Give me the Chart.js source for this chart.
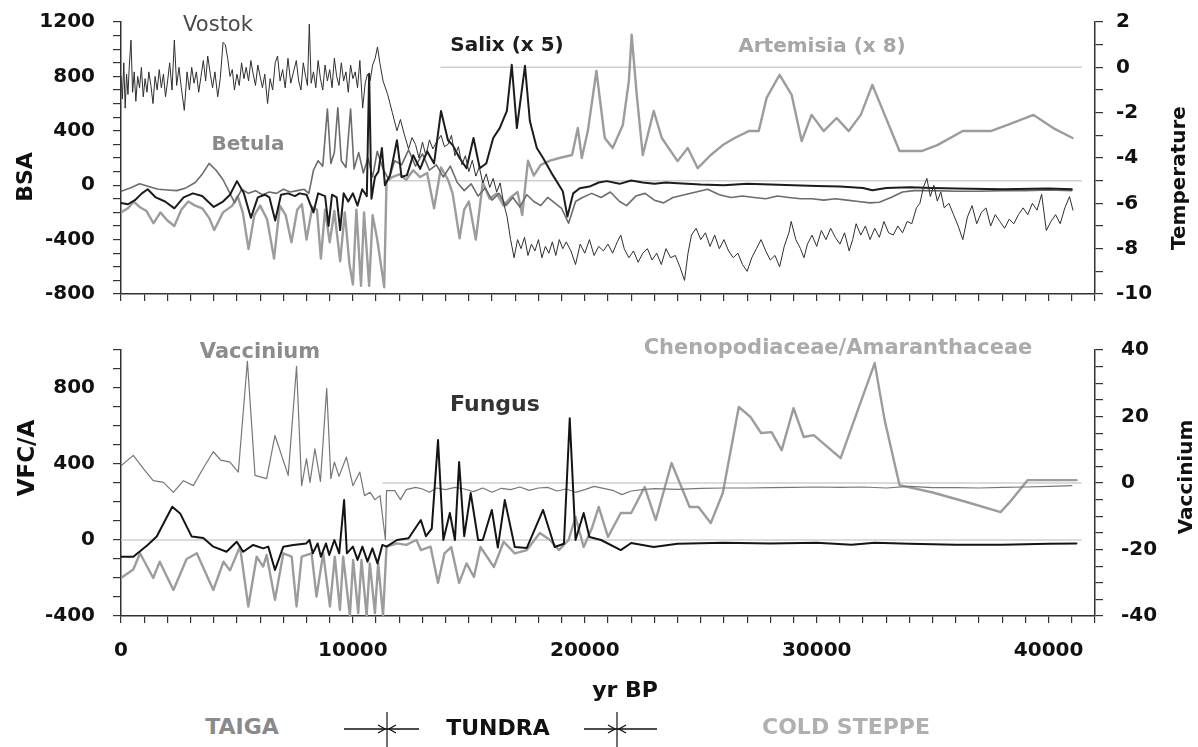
<!DOCTYPE html>
<html>
<head>
<meta charset="utf-8">
<script src="https://cdn.jsdelivr.net/npm/chart.js@4/dist/chart.umd.min.js"></script>
<style>
html, body { margin: 0; padding: 0; background: #fff; }
#wrap { position: relative; width: 1198px; height: 747px; overflow: hidden; font-family: "DejaVu Sans", sans-serif; }
canvas { position: absolute; left: 0; }
.lbl { position: absolute; white-space: nowrap; transform: translate(-50%, -50%); line-height: 1; }
.b { font-weight: bold; }
.rot { transform: translate(-50%, -50%) rotate(-90deg); }
</style>
</head>
<body>
<div id="wrap">
  <canvas id="topChart" width="1198" height="320" style="top:0"></canvas>
  <canvas id="bottomChart" width="1198" height="360" style="top:320px"></canvas>

  <div class="lbl" style="left:218px;top:24px;font-size:21px;color:#4a4a4a;">Vostok</div>
  <div class="lbl b" style="left:507px;top:44px;font-size:20px;color:#1e1e1e;">Salix (x 5)</div>
  <div class="lbl b" style="left:822px;top:45px;font-size:20px;color:#a6a6a6;filter:blur(0.5px);">Artemisia (x 8)</div>
  <div class="lbl b" style="left:248px;top:143px;font-size:20px;color:#8a8a8a;">Betula</div>
  <div class="lbl b" style="left:260px;top:351px;font-size:21px;color:#8c8c8c;">Vaccinium</div>
  <div class="lbl b" style="left:495px;top:404px;font-size:22px;color:#333;">Fungus</div>
  <div class="lbl b" style="left:838px;top:347px;font-size:21px;color:#ababab;filter:blur(0.6px);">Chenopodiaceae/Amaranthaceae</div>

  <div class="lbl b rot" style="left:25px;top:177px;font-size:22px;color:#111;">BSA</div>
  <div class="lbl b rot" style="left:1178px;top:178px;font-size:20px;color:#111;">Temperature</div>
  <div class="lbl b rot" style="left:26px;top:458px;font-size:23px;color:#111;">VFC/A</div>
  <div class="lbl b rot" style="left:1185px;top:477px;font-size:20px;color:#111;">Vaccinium</div>
  <div class="lbl b" style="left:625px;top:690px;font-size:22px;color:#111;">yr BP</div>

  <div class="lbl b" style="left:242px;top:727px;font-size:22px;color:#8a8a8a;">TAIGA</div>
  <svg style="position:absolute;left:340px;top:710px" width="85" height="37">
    <line x1="4" y1="19" x2="79" y2="19" stroke="#111" stroke-width="1.5"/>
    <line x1="47" y1="2" x2="47" y2="37" stroke="#111" stroke-width="1.2"/>
    <polyline points="38,15 45,19 38,23" fill="none" stroke="#111" stroke-width="1.3"/>
    <polyline points="56,15 49,19 56,23" fill="none" stroke="#111" stroke-width="1.3"/>
  </svg>
  <div class="lbl b" style="left:498px;top:728px;font-size:22px;color:#111;">TUNDRA</div>
  <svg style="position:absolute;left:580px;top:710px" width="85" height="37">
    <line x1="4" y1="19" x2="77" y2="19" stroke="#111" stroke-width="1.5"/>
    <line x1="37" y1="2" x2="37" y2="37" stroke="#111" stroke-width="1.2"/>
    <polyline points="28,15 35,19 28,23" fill="none" stroke="#111" stroke-width="1.3"/>
    <polyline points="46,15 39,19 46,23" fill="none" stroke="#111" stroke-width="1.3"/>
  </svg>
  <div class="lbl b" style="left:846px;top:727px;font-size:22px;color:#b0b0b0;filter:blur(0.6px);">COLD STEPPE</div>
</div>

<script>
// ---- Top panel: Vostok temperature (right axis) and BSA pollen curves (left axis) ----
const vostokAge = [
  0,60,120,180,240,300,360,430,500,570,
  640,720,800,880,960,1040,1120,1200,1290,1380,
  1470,1560,1650,1740,1830,1920,2010,2100,2200,2300,
  2400,2500,2600,2730,2850,2950,3050,3150,3250,3350,
  3450,3550,3650,3740,3850,3950,4050,4170,4280,4400,
  4500,4600,4700,4800,4890,5000,5100,5200,5300,5400,
  5500,5600,5700,5800,5900,6000,6100,6200,6320,6430,
  6540,6650,6750,6860,6970,7080,7200,7320,7440,7560,
  7660,7760,7860,7960,8040,8120,8200,8300,8400,8500,
  8600,8700,8800,8900,9000,9100,9200,9300,9400,9500,
  9600,9700,9800,9900,10000,10100,10200,10300,10420,10530,
  10630,10740,10850,10960,11060,11160,11300,11500,11700,11900,
  12050,12200,12400,12550,12700,12850,13000,13150,13300,13450,
  13600,13800,13950,14100,14250,14400,14550,14700,14850,15000,
  15150,15300,15450,15600,15750,15900,16050,16200,16350,16500,
  16650,16800,16950,17100,17250,17400,17550,17700,17850,18000,
  18150,18300,18450,18600,18750,18900,19050,19200,19400,19600,
  19800,20000,20200,20400,20600,20800,21000,21200,21400,21550,
  21700,21900,22100,22300,22500,22700,22900,23100,23300,23500,
  23700,23900,24100,24300,24450,24600,24800,25000,25200,25400,
  25600,25800,26000,26200,26400,26600,26800,27000,27200,27400,
  27600,27800,28000,28200,28400,28600,28800,28900,29100,29300,
  29450,29600,29800,30000,30200,30400,30600,30800,31000,31200,
  31400,31550,31700,31900,32100,32300,32500,32700,32900,33100,
  33300,33500,33700,33900,34100,34300,34450,34600,34750,34900,
  35050,35200,35350,35500,35700,35900,36100,36300,36500,36700,
  36900,37100,37300,37500,37700,37900,38100,38300,38500,38700,
  38900,39100,39300,39500,39700,39900,40100,40300,40500,40700,
  40900,41050
];
const vostokTemp = [
  -0.4,-1.4,0.2,-1.8,-0.3,-1.2,0.1,1.2,-1.1,-0.2,
  -1.5,-0.4,-0.9,0.0,-1.3,-0.5,-1.1,-0.2,-0.8,-1.6,
  -0.4,-1.0,-0.1,-0.9,-0.3,-1.3,-0.6,0.2,-1.0,1.2,
  -0.8,0.0,-0.9,-1.9,-0.2,-1.0,0.0,-0.7,-0.2,-1.1,
  -0.4,0.3,-0.6,0.5,-0.3,-0.9,-0.2,-1.3,-0.5,1.1,
  1.0,0.4,-0.4,-0.1,-1.0,-0.3,-0.8,0.2,-0.5,0.0,
  -0.6,0.3,-0.3,-0.8,0.1,-0.4,-0.9,-0.3,-1.6,-0.5,
  -1.0,0.2,0.5,-0.6,-0.1,-0.9,0.4,-0.7,-0.2,0.3,
  -0.6,-1.0,0.2,-0.4,-0.8,1.9,-0.7,-0.2,-0.9,0.3,
  -0.5,-1.0,0.1,-0.6,-0.1,-0.9,0.4,-0.4,-0.8,0.2,
  -0.6,-0.2,-1.1,0.1,-0.5,-0.2,-0.9,0.3,-1.8,-0.7,
  -0.3,-0.6,0.1,0.4,0.9,0.2,-0.6,-1.2,-2.0,-2.8,
  -2.3,-2.9,-3.6,-3.1,-3.4,-4.0,-3.3,-3.9,-3.2,-3.6,
  -3.3,-3.0,-3.5,-3.4,-3.0,-3.9,-3.5,-4.3,-3.9,-4.6,
  -4.1,-4.8,-4.4,-5.1,-4.7,-5.3,-4.9,-5.5,-5.1,-6.0,
  -6.6,-7.6,-8.4,-7.6,-8.0,-7.5,-8.3,-7.8,-8.1,-7.6,
  -8.4,-7.9,-8.2,-7.7,-8.3,-7.6,-8.0,-7.7,-8.1,-8.7,
  -7.8,-8.2,-7.6,-8.3,-7.9,-8.1,-7.8,-8.2,-7.7,-7.4,
  -8.0,-8.4,-8.1,-8.6,-8.2,-8.0,-8.5,-8.2,-8.7,-8.0,
  -8.4,-8.3,-8.8,-9.4,-8.2,-7.4,-7.1,-7.6,-7.3,-7.9,
  -7.4,-8.0,-7.6,-8.1,-8.4,-8.2,-8.7,-9.0,-8.4,-8.0,
  -7.6,-8.1,-8.5,-8.3,-8.8,-7.9,-7.3,-6.8,-7.6,-8.0,
  -8.4,-7.8,-7.4,-7.9,-7.2,-7.6,-7.1,-7.5,-7.8,-7.3,
  -8.1,-7.6,-6.9,-7.4,-7.0,-7.6,-7.1,-7.5,-6.8,-7.3,
  -7.4,-7.0,-7.3,-6.8,-6.9,-6.2,-6.0,-5.3,-4.9,-5.7,
  -5.2,-5.9,-5.5,-6.2,-6.0,-6.5,-7.0,-7.6,-6.6,-6.1,
  -6.9,-6.4,-6.2,-7.0,-6.5,-6.8,-7.1,-6.7,-6.9,-6.5,
  -6.2,-6.5,-6.0,-6.3,-5.6,-7.2,-6.8,-6.5,-6.9,-6.2,
  -5.7,-6.3
];

const salixAge = [
  0,300,600,900,1150,1500,1900,2300,2700,3100,
  3500,4000,4400,4700,5000,5300,5600,5900,6200,6400,
  6650,6900,7200,7500,7700,8000,8300,8500,8800,8950,
  9100,9300,9450,9600,9800,10000,10200,10400,10600,10700,
  10800,10950,11100,11250,11380,11600,11900,12100,12330,12600,
  12900,13200,13500,13800,14100,14300,14600,14900,15200,15470,
  15750,16050,16330,16640,16850,17070,17420,17630,17930,18200,
  18620,19050,19250,19500,19780,20200,20600,20950,21500,22000,
  22500,23000,23500,24000,25000,26000,27000,28000,29000,30000,
  31000,32000,32400,33000,34000,35000,36000,38000,40000,41000
];
const salixBSA = [
  -130,-140,-110,-60,-30,-90,-120,-170,-90,-60,
  -80,-160,-120,-70,30,-60,-240,-90,-70,-90,
  -260,-70,-60,-80,-60,-70,-200,-60,-80,-300,
  -70,-90,-330,-60,-120,-60,-150,-30,-80,820,
  -100,60,100,273,0,74,330,60,74,220,
  120,250,160,546,330,295,200,125,347,125,
  160,347,420,546,885,420,878,472,273,200,
  74,-44,-230,-60,-22,-10,20,30,10,35,
  20,10,20,15,5,0,10,5,0,-5,
  -10,-20,-37,-20,-15,-20,-25,-30,-25,-30
];

const betulaAge = [
  0,400,800,1200,1600,2000,2400,2800,3200,3500,
  3800,4100,4400,4700,4900,5200,5500,5800,6100,6400,
  6700,7000,7300,7600,7900,8100,8300,8500,8700,8900,
  9050,9200,9350,9500,9700,9900,10050,10250,10450,10650,
  10850,11050,11300,11550,11800,12100,12400,12700,13000,13300,
  13600,13900,14200,14500,14800,15100,15400,15700,16000,16300,
  16600,16900,17200,17500,17800,18100,18400,18700,19000,19300,
  19600,19900,20300,20700,21100,21500,21800,22200,22600,23000,
  23400,23800,24300,24800,25300,25800,26300,26800,27300,27800,
  28300,28800,29300,29800,30300,30800,31300,31800,32300,32700,
  33200,33700,34200,35000,36000,37000,38000,39000,40000,41000
];
const betulaBSA = [
  -45,-20,10,-10,-30,-35,-40,-20,20,80,
  160,110,40,-60,-130,-30,-60,-40,-70,-50,
  -60,-30,-50,-40,-30,-60,110,180,140,560,
  160,240,570,180,130,560,120,240,90,200,
  60,250,120,40,180,150,260,140,230,110,
  150,60,140,20,-40,10,-80,-20,-110,-60,
  -150,-90,-160,-70,-120,-150,-90,-130,-170,-280,
  -120,-90,-60,-90,-50,-120,-150,-80,-60,-110,
  -130,-90,-70,-50,-30,-70,-90,-80,-90,-100,
  -80,-90,-100,-100,-110,-100,-110,-120,-130,-125,
  -90,-50,-40,-40,-45,-45,-40,-40,-35,-40
];

const artemisiaAge = [
  0,300,550,800,1100,1400,1700,2000,2300,2600,
  2900,3200,3500,3800,4020,4400,4800,5030,5250,5500,
  5750,6000,6300,6600,6850,7100,7350,7600,7800,8000,
  8250,8450,8620,8800,9000,9200,9450,9650,9850,10000,
  10150,10350,10480,10700,10850,11050,11350,11450,11700,12000,
  12300,12600,12900,13200,13500,13800,14100,14300,14600,14800,
  15000,15300,15600,15900,16200,16500,16800,17100,17300,17550,
  17800,18100,18500,18900,19450,19700,19870,20130,20500,20860,
  21200,21640,21900,22020,22240,22500,22970,23320,24000,24440,
  24870,25430,25950,26460,27070,27500,27840,28400,28920,29350,
  29780,30300,30860,31380,31900,32400,32930,33570,34000,34520,
  35200,36300,37500,38230,39350,40200,41030
];
const artemisiaBSA = [
  -200,-170,-120,-160,-190,-280,-200,-260,-300,-180,
  -120,-150,-170,-240,-330,-200,-150,-80,-200,-470,
  -220,-150,-250,-540,-150,-220,-420,-180,-140,-400,
  -160,-180,-540,-180,-420,-190,-560,-200,-580,-730,
  -180,-740,-200,-740,-220,-400,-750,30,60,80,
  40,110,60,90,-170,130,40,-60,-390,-180,
  -120,-400,20,-100,-60,-150,-90,-50,-220,180,
  70,150,180,200,222,420,200,398,840,347,
  273,443,767,1107,664,222,546,347,177,273,
  125,222,295,347,398,398,642,812,664,325,
  517,398,494,398,517,738,517,251,251,251,
  295,398,398,443,517,420,347
];

// reference levels (temperature axis) and the ages where they start
const tempRefLevel = [0, -5];
const tempRefStart = [13800, 11500];
const refEndAge = 41400;

// ---- Bottom panel: Vaccinium (right axis), Fungus and Chenopodiaceae/Amaranthaceae (VFC/A) ----
const vaccAge = [
  0,530,1000,1390,1830,2260,2690,3120,3550,3980,
  4300,4700,5060,5450,5780,6280,6640,7210,7570,7790,
  8000,8150,8360,8600,8870,9050,9200,9400,9720,10000,
  10300,10500,10740,10950,11170,11400,11450,11800,12050,12300,
  12700,13000,13300,13600,14000,14400,14800,15200,15600,16000,
  16400,16800,17200,17600,18000,18400,18800,19200,19600,20000,
  20400,20800,21200,21600,22000,22500,23000,24000,25000,26000,
  27000,28000,29000,30000,31000,32000,33000,34000,35000,36000,
  37000,38000,39000,40000,41000
];
const vaccVal = [
  5.2,8.3,4.0,0.7,0.2,-2.8,0.7,-0.8,4.5,9.4,
  6.9,6.3,3.3,36.6,2.3,1.3,14.3,2.3,35.1,-0.8,
  7.3,0.2,10.3,0.5,28.5,1.3,6.3,2.0,7.8,-0.8,
  3.3,-3.8,-2.8,-5.0,-3.8,-17.0,-2.3,-2.3,-5.0,-2.0,
  -1.3,-1.8,-2.8,-1.5,-2.0,-1.3,-1.8,-2.6,-1.5,-2.8,
  -1.6,-2.0,-1.2,-2.2,-1.5,-1.3,-2.4,-1.8,-2.8,-2.0,
  -1.0,-1.6,-2.2,-3.5,-2.4,-2.0,-1.7,-1.9,-1.6,-1.5,
  -1.5,-1.4,-1.3,-1.2,-1.3,-1.2,-1.5,-1.0,-1.4,-1.4,
  -1.5,-1.3,-1.2,-1.0,-0.8
];

const fungusAge = [
  0,530,1150,1540,2210,2550,3050,3550,3980,4550,
  4990,5270,5700,6130,6350,6640,7000,7430,7990,8130,
  8270,8480,8620,8840,8980,9200,9410,9620,9740,10000,
  10200,10410,10630,10840,11060,11270,11450,11900,12400,12930,
  13150,13400,13670,13900,14180,14400,14580,14800,15080,15400,
  15600,15990,16250,16550,16980,17500,18200,18700,19100,19350,
  19600,19950,20200,20700,21550,22000,22970,24000,26000,28000,
  30000,31500,32500,34000,36000,38000,40000,41200
];
const fungusVal = [
  -88,-88,-26,18,175,140,18,10,-35,-62,
  -9,-62,-26,-44,-35,-158,-35,-26,-18,0,
  -70,-18,-88,-18,-79,0,-70,210,-70,-35,
  -105,-35,-114,-44,-123,-26,-35,0,9,105,
  20,60,526,0,142,0,410,20,247,0,
  0,158,-40,210,-37,-42,158,-37,-20,641,
  0,142,16,0,-53,-16,-37,-20,-15,-18,
  -15,-25,-15,-20,-25,-25,-20,-18
];

const chenoAge = [
  0,530,820,1390,1670,2260,2830,3270,3980,4420,
  4700,5130,5490,5850,6130,6280,6640,7000,7360,7570,
  7790,8220,8430,8720,9010,9220,9440,9580,9870,10010,
  10230,10370,10590,10730,10950,11090,11300,11450,11900,12300,
  12740,12930,13350,13670,13950,14240,14580,14900,15220,15500,
  16080,16500,16980,17500,18060,18500,18880,19300,19600,19950,
  20300,20600,21000,21550,22000,22580,23060,23740,24520,24900,
  25430,25950,26640,27150,27600,28050,28490,29000,29440,29870,
  31030,32500,32930,33570,35000,36460,37930,38400,39090,40000,
  41200
];
const chenoVal = [
  -200,-155,-70,-200,-114,-263,-100,-70,-263,-114,
  -160,-35,-350,-88,-140,-79,-315,-70,-88,-350,
  -88,-70,-298,-70,-350,-88,-368,-88,-398,-105,
  -385,-105,-398,-123,-385,-123,-398,-35,-18,-26,
  0,-53,-35,-226,-70,-37,-226,-123,-195,-37,
  -142,-9,-70,-53,37,0,-53,0,121,-37,
  60,174,16,142,142,279,105,405,174,174,
  89,247,700,647,563,568,473,694,542,552,
  431,931,631,289,250,200,147,210,315,315,
  315
];

// reference levels for the bottom panel
const vfcRefStart = 0;
const vaccRefStart = 11300;

// axis tick settings
const ageMax = 42000;
const ageLabelEvery = 10000;

Chart.defaults.font.family = '"DejaVu Sans", sans-serif';
Chart.defaults.color = '#111';

function pts(ages, vals) {
  return ages.map((a, i) => ({ x: a, y: vals[i] }));
}

function line(label, data, axis, color, width) {
  return {
    label, data, yAxisID: axis,
    borderColor: color, borderWidth: width,
    pointRadius: 0, tension: 0, fill: false
  };
}

// pin each axis box to a fixed size so the plot areas line up exactly
function pinBox(s, w, h) {
  if (w !== null) s.width = w;
  if (h !== null) s.height = h;
  s.paddingTop = 0; s.paddingBottom = 0; s.paddingLeft = 0; s.paddingRight = 0;
}

function xAxis(height, showLabels) {
  return {
    type: 'linear', min: 0, max: ageMax,
    afterFit: s => pinBox(s, null, height),
    border: { display: true, color: '#333', width: 1.5 },
    grid: { drawOnChartArea: false, drawTicks: true, tickLength: 7, color: '#333', lineWidth: 1.2 },
    ticks: {
      display: showLabels, stepSize: 1000, autoSkip: false, maxRotation: 0, minRotation: 0,
      padding: 16, color: '#111', font: { size: 20, weight: 'bold' },
      callback: v => (Math.round(v) % ageLabelEvery === 0 ? String(v) : '')
    }
  };
}

function yAxis(pos, min, max, step, every, width, pad) {
  return {
    type: 'linear', position: pos, min, max,
    afterFit: s => pinBox(s, width, null),
    border: { display: true, color: '#333', width: 1.5 },
    grid: { drawOnChartArea: false, drawTicks: true, tickLength: 8, color: '#333', lineWidth: 1.2 },
    ticks: {
      stepSize: step, autoSkip: false, padding: pad, color: '#111',
      font: { size: 20, weight: 'bold' },
      callback: v => (Math.round(v) % every === 0 ? String(Math.round(v)) : '')
    }
  };
}

const common = {
  responsive: false,
  animation: false,
  devicePixelRatio: 1,
  plugins: { legend: { display: false }, tooltip: { enabled: false } },
  elements: { line: { borderCapStyle: 'round', borderJoinStyle: 'round' } }
};

// top chart
const topDatasets = [
  line('Vostok', pts(vostokAge, vostokTemp), 'yT', '#2e2e2e', 1),
  line('Salix (x 5)', pts(salixAge, salixBSA), 'yL', '#1c1c1c', 2),
  line('Betula', pts(betulaAge, betulaBSA), 'yL', '#6c6c6c', 1.6),
  line('Artemisia (x 8)', pts(artemisiaAge, artemisiaBSA), 'yL', '#9c9c9c', 2.4)
];
tempRefLevel.forEach((lv, i) => {
  topDatasets.push(line('ref', [{ x: tempRefStart[i], y: lv }, { x: refEndAge, y: lv }], 'yT', '#cfcfcf', 1.5));
});

new Chart(document.getElementById('topChart'), {
  type: 'line',
  data: { datasets: topDatasets },
  options: Object.assign({}, common, {
    layout: { padding: { top: 22, left: 0, right: 0, bottom: 0 } },
    scales: {
      x: xAxis(26, false),
      yL: yAxis('left', -800, 1200, 100, 400, 121, 18),
      yT: yAxis('right', -10, 2, 1, 2, 103, 13)
    }
  })
});

// bottom chart
const bottomDatasets = [
  line('Fungus', pts(fungusAge, fungusVal), 'yL', '#141414', 2),
  line('Vaccinium', pts(vaccAge, vaccVal), 'yV', '#777777', 1.2),
  line('Chenopodiaceae/Amaranthaceae', pts(chenoAge, chenoVal), 'yL', '#9c9c9c', 2.4),
  line('ref', [{ x: vfcRefStart, y: 0 }, { x: refEndAge, y: 0 }], 'yL', '#cfcfcf', 1.5),
  line('ref', [{ x: vaccRefStart, y: 0 }, { x: refEndAge, y: 0 }], 'yV', '#cfcfcf', 1.5)
];

new Chart(document.getElementById('bottomChart'), {
  type: 'line',
  data: { datasets: bottomDatasets },
  options: Object.assign({}, common, {
    layout: { padding: { top: 30, left: 0, right: 0, bottom: 0 } },
    scales: {
      x: xAxis(64, true),
      yL: yAxis('left', -400, 1000, 100, 400, 121, 18),
      yV: yAxis('right', -40, 40, 5, 20, 103, 18)
    }
  })
});
</script>
</body>
</html>
